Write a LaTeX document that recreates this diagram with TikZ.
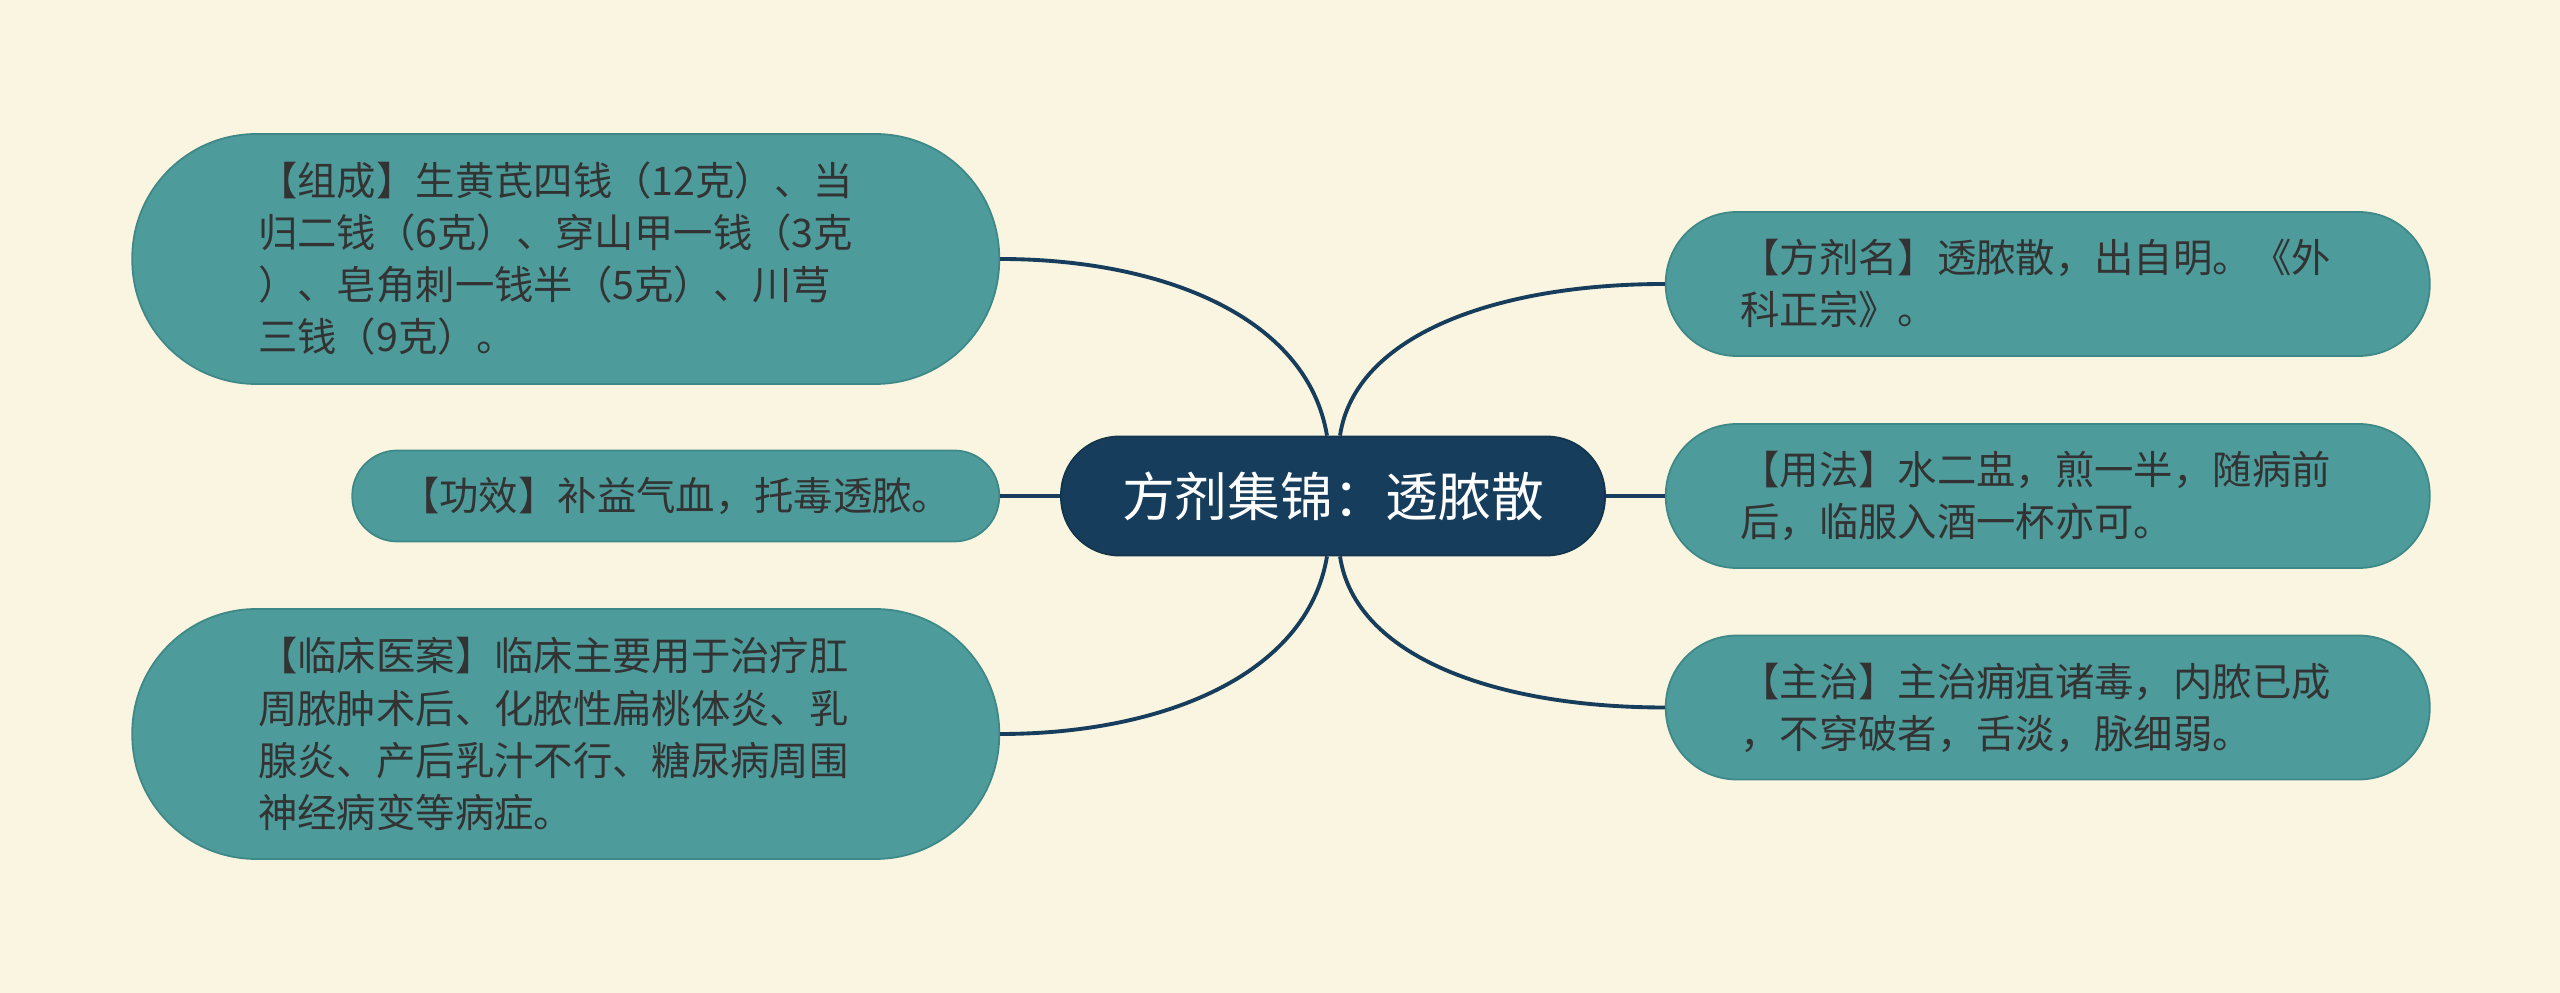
\documentclass[tikz,border=0pt]{standalone}
\usepackage{fontspec}
\setmainfont{Noto Sans CJK SC}
\usetikzlibrary{positioning}
\usepackage{xcolor}
\definecolor{paper}{HTML}{FAF5E0}
\definecolor{hubblue}{HTML}{173D5C}
\definecolor{leafteal}{HTML}{4D9B9B}
\definecolor{leafedge}{HTML}{3E8888}
\definecolor{leaftext}{HTML}{333333}
\tikzset{
    hub/.style={
        rectangle, rounded corners=0.58cm,
        draw=hubblue!85!black, fill=hubblue,
        minimum width=5.44cm, minimum height=1.19cm,
        text=white, font=\fontsize{15}{18}\selectfont, line width=0.5pt
    },
    leaf/.style={
        rectangle, draw=leafedge, fill=leafteal,
        text=leaftext, font=\fontsize{11.2}{14.8}\selectfont, line width=0.5pt
    },
    bigleaf/.style={
        leaf, rounded corners=1.24cm,
        minimum width=8.67cm, minimum height=2.5cm,
        text width=6.15cm, align=left
    },
    midleaf/.style={
        leaf, rounded corners=0.71cm,
        minimum width=7.64cm, minimum height=1.44cm,
        text width=6.15cm, align=left
    },
    smallleaf/.style={
        leaf, rounded corners=0.45cm,
        minimum width=6.47cm, minimum height=0.91cm, align=center
    },
    link/.style={draw=hubblue, line width=1.1pt}
}
\begin{document}
\begin{tikzpicture}
    \fill[paper] (0,0) rectangle (25.6,9.93);
    \useasboundingbox (0,0) rectangle (25.6,9.93);
    \node[hub] (hub) at (13.33,4.97) {方剂集锦：透脓散};
    \node[bigleaf, left=0.6cm of hub, yshift=2.37cm] (zucheng) {【组成】生黄芪四钱（12克）、当\\归二钱（6克）、穿山甲一钱（3克\\）、皂角刺一钱半（5克）、川芎\\三钱（9克）。};
    \node[smallleaf, left=0.6cm of hub] (gongxiao) {【功效】补益气血，托毒透脓。};
    \node[bigleaf, left=0.6cm of hub, yshift=-2.38cm] (linchuang) {【临床医案】临床主要用于治疗肛\\周脓肿术后、化脓性扁桃体炎、乳\\腺炎、产后乳汁不行、糖尿病周围\\神经病变等病症。};
    \node[midleaf, right=0.59cm of hub, yshift=2.12cm] (fangjiming) {【方剂名】透脓散，出自明。《外\\科正宗》。};
    \node[midleaf, right=0.59cm of hub] (yongfa) {【用法】水二盅，煎一半，随病前\\后，临服入酒一杯亦可。};
    \node[midleaf, right=0.59cm of hub, yshift=-2.115cm] (zhuzhi) {【主治】主治痈疽诸毒，内脓已成\\，不穿破者，舌淡，脉细弱。};
    \draw[link] ([xshift=-0.06cm]hub.north) .. controls +(-0.2,1.2) and +(1.6,0) .. (zucheng.east);
    \draw[link] ([xshift=0.07cm]hub.north) .. controls +(0.15,1.0) and +(-1.7,0) .. (fangjiming.west);
    \draw[link] (hub.west) -- (gongxiao.east);
    \draw[link] (hub.east) -- (yongfa.west);
    \draw[link] ([xshift=-0.06cm]hub.south) .. controls +(-0.2,-1.2) and +(1.6,0) .. (linchuang.east);
    \draw[link] ([xshift=0.07cm]hub.south) .. controls +(0.15,-1.0) and +(-1.7,0) .. (zhuzhi.west);
\end{tikzpicture}
\end{document}
